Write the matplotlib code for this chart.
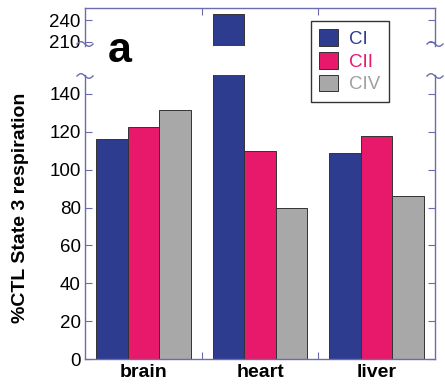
import numpy as np
import matplotlib
matplotlib.use('Agg')
import matplotlib.pyplot as plt
from matplotlib.lines import Line2D

organs = ['brain', 'heart', 'liver']
series = ['CI', 'CII', 'CIV']
ci = [116, 249, 109]
cii = [122.5, 110, 118]
civ = [131.5, 79.5, 86]
colors = ['#2e3c8f', '#e8196b', '#a8a8a8']
text_colors = ['#2e3c8f', '#e8196b', '#a0a0a0']
yticks_low = [0, 20, 40, 60, 80, 100, 120, 140]
yticks_high = [210, 240]

spine_c = '#6b6bb0'
plt.rcParams['font.family'] = ['Liberation Sans', 'DejaVu Sans']

fig = plt.figure(figsize=(4.45, 3.84), dpi=100)
L, R = 85 / 445, 435 / 445
ax_lo = fig.add_axes([L, 1 - 359 / 384, R - L, (359 - 75) / 384])
ax_hi = fig.add_axes([L, 1 - 46 / 384, R - L, (46 - 8) / 384])

x = np.arange(len(organs))
w = 0.27
handles = []
for ax in (ax_lo, ax_hi):
    for i, vals in enumerate([ci, cii, civ]):
        b = ax.bar(x + (i - 1) * w, vals, w, color=colors[i],
                   edgecolor='#333333', linewidth=0.7, label=series[i])
        if ax is ax_lo:
            handles.append(b)
    ax.set_xlim(-0.5, 2.5)
    for s in ax.spines.values():
        s.set_color(spine_c)
        s.set_linewidth(1.0)
    ax.tick_params(axis='y', direction='in', length=5, color=spine_c,
                   labelsize=13.5, right=True, pad=3)
    ax.tick_params(axis='x', direction='in', length=5, color=spine_c)

ax_lo.set_ylim(0, 150)
ax_lo.set_yticks(yticks_low)
ax_lo.spines['top'].set_visible(False)
ax_lo.set_xticks([0.5, 1.5])
ax_lo.set_xticklabels([])
for xi, name in zip(x, organs):
    ax_lo.text(xi, -0.016, name, ha='center', va='top', fontsize=14,
               fontweight='bold', transform=ax_lo.get_xaxis_transform())

ax_hi.set_ylim(204, 257)
ax_hi.set_yticks(yticks_high)
ax_hi.spines['bottom'].set_visible(False)
ax_hi.set_xticks([0.5, 1.5])
ax_hi.tick_params(axis='x', top=True, bottom=False, labelbottom=False)

# wavy break marks
t = np.linspace(0, 1, 30)
for xs in (L, R):
    for yp in (1 - 44 / 384, 1 - 76 / 384):
        xx = xs - 0.018 + 0.036 * t
        yy = yp + 0.006 * np.sin(2 * np.pi * t)
        fig.add_artist(Line2D(xx, yy, color=spine_c, lw=1.0,
                              transform=fig.transFigure))

fig.text(0.045, 1 - 208 / 384, '%CTL State 3 respiration', rotation=90,
         ha='center', va='center', fontsize=14, fontweight='bold')
fig.text(0.243, 1 - 51 / 384, 'a', fontsize=31, fontweight='bold',
         ha='left', va='center')

leg = fig.legend(handles=handles, labels=series, loc='upper left',
                 bbox_to_anchor=(311 / 445, 1 - 21 / 384),
                 bbox_transform=fig.transFigure, fontsize=13.5,
                 frameon=True, fancybox=False, edgecolor='#333333',
                 handlelength=1.0, handleheight=1.0, handletextpad=0.6,
                 borderpad=0.45, labelspacing=0.2, borderaxespad=0,
                 framealpha=1)
leg.get_frame().set_linewidth(1.0)
for txt, c in zip(leg.get_texts(), text_colors):
    txt.set_color(c)

fig.savefig('out.png', dpi=100)
